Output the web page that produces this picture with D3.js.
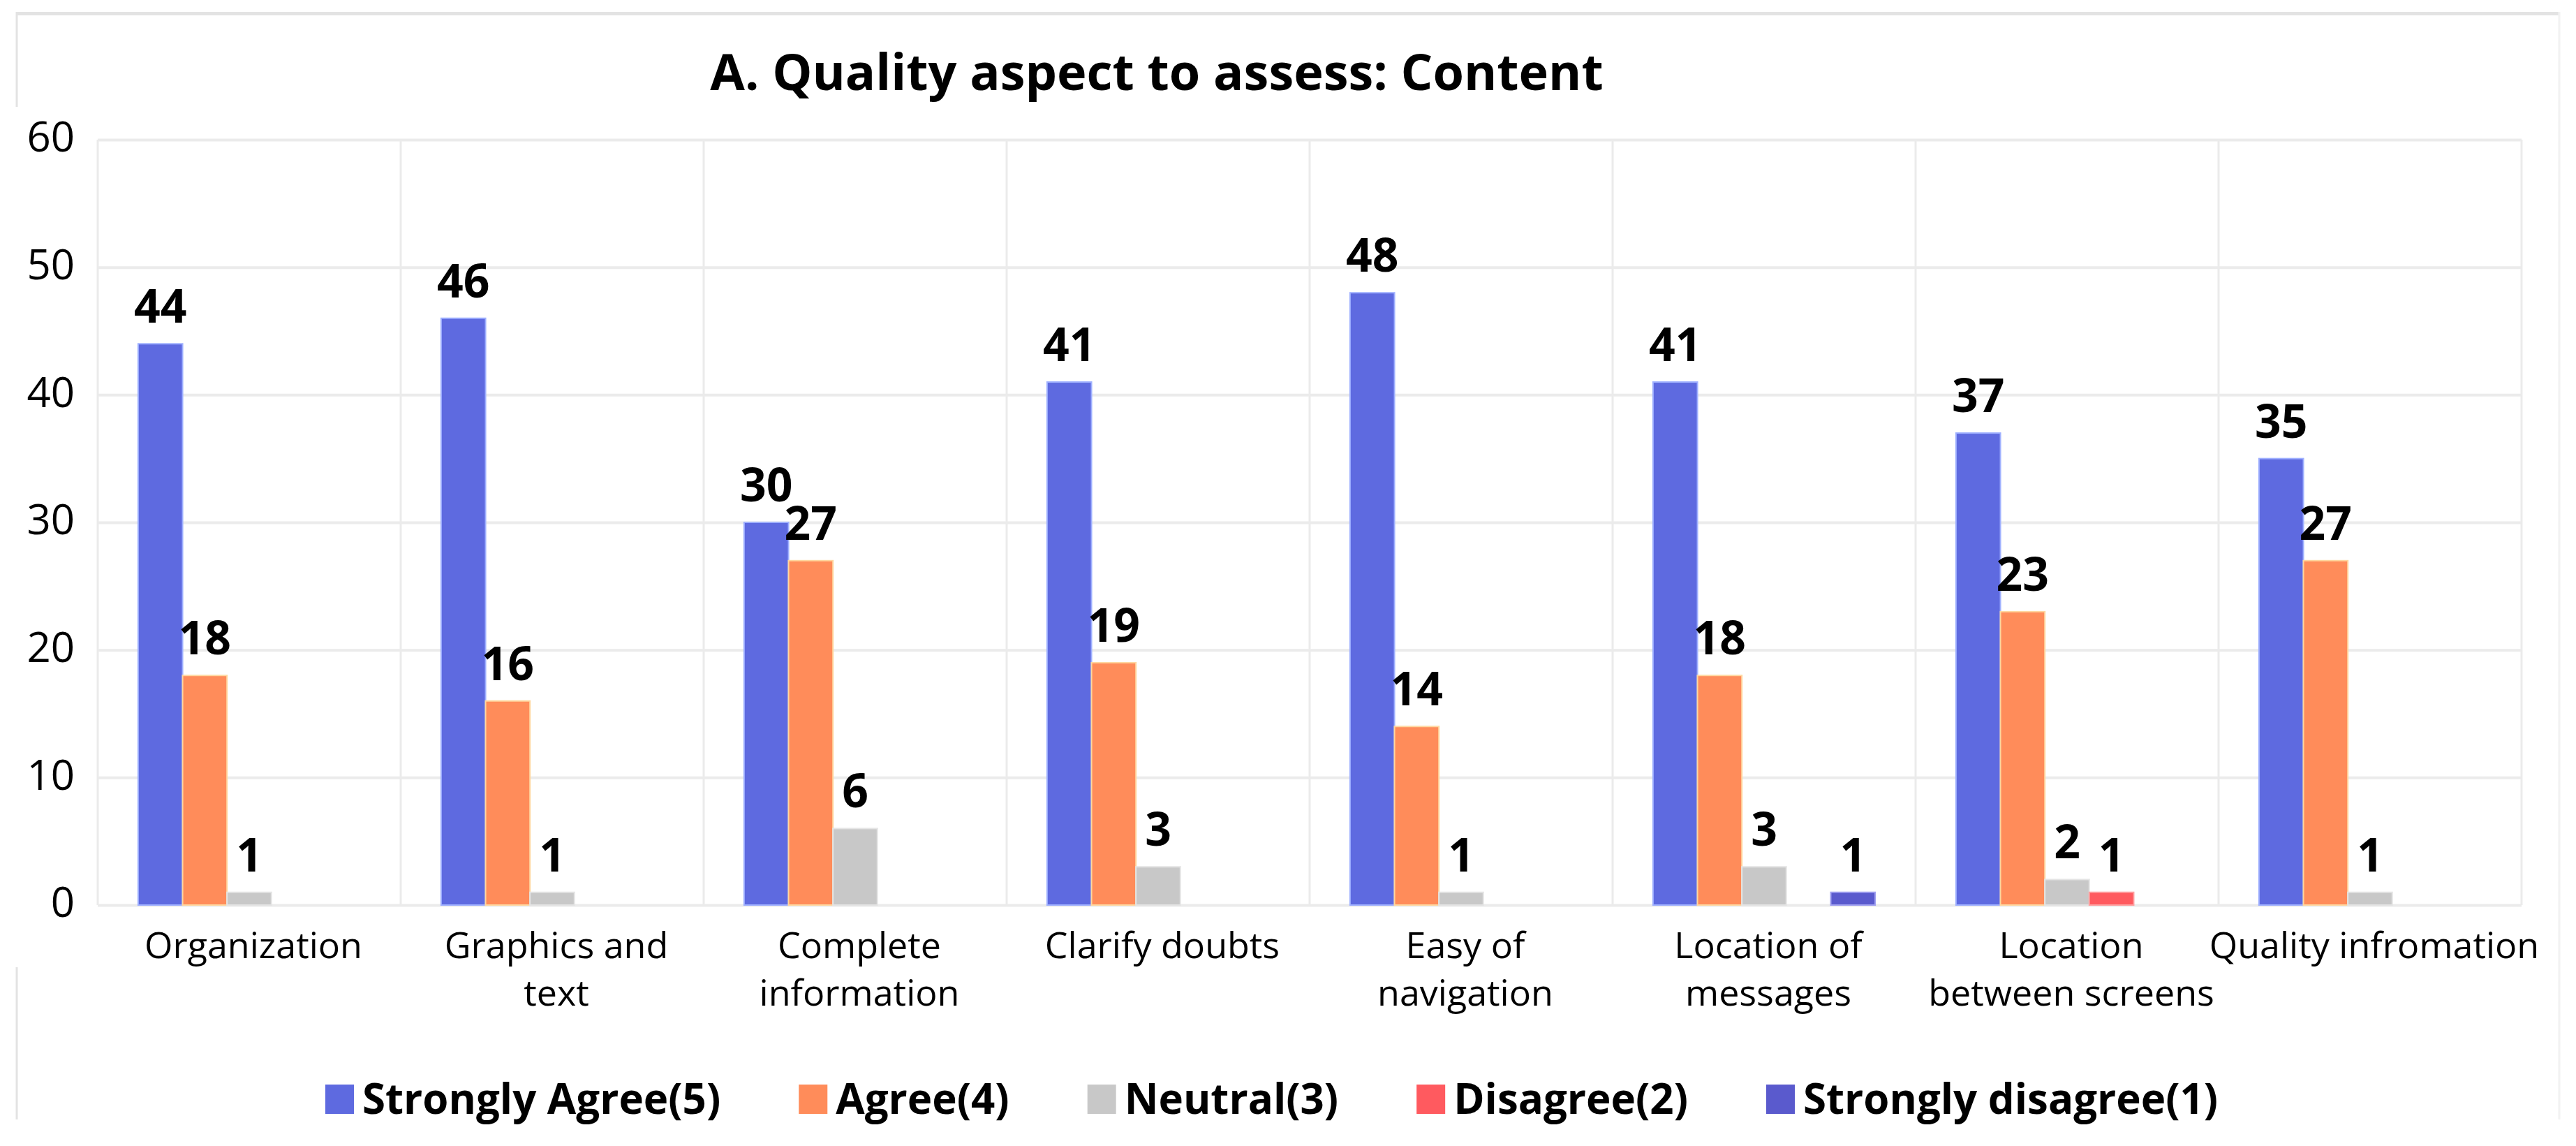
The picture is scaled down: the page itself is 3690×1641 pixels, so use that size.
<!DOCTYPE html>
<html>
<head>
<meta charset="utf-8">
<script src="https://cdn.jsdelivr.net/npm/d3@7"></script>
<style>
  body { margin: 0; background: #fff; }
  text { font-family: 'Open Sans', sans-serif; fill: #000; }
</style>
</head>
<body>
<script>
// Data
var categories = ['Organization', 'Graphics and text', 'Complete information', 'Clarify doubts',
  'Easy of navigation', 'Location of messages', 'Location between screens', 'Quality infromation'];
var categoryLines = [['Organization'], ['Graphics and', 'text'], ['Complete', 'information'], ['Clarify doubts'],
  ['Easy of', 'navigation'], ['Location of', 'messages'], ['Location', 'between screens'], ['Quality infromation']];
var seriesNames = ['Strongly Agree(5)', 'Agree(4)', 'Neutral(3)', 'Disagree(2)', 'Strongly disagree(1)'];
var stronglyAgree = [44, 46, 30, 41, 48, 41, 37, 35];
var agree = [18, 16, 27, 19, 14, 18, 23, 27];
var neutral = [1, 1, 6, 3, 1, 3, 2, 1];
var disagree = [0, 0, 0, 0, 0, 0, 1, 0];
var stronglyDisagree = [0, 0, 0, 0, 0, 1, 0, 0];
var yTicks = [0, 10, 20, 30, 40, 50, 60];
var title = 'A. Quality aspect to assess: Content';

var seriesValues = [stronglyAgree, agree, neutral, disagree, stronglyDisagree];
var COLORS = ['#5E6AE0', '#FF8C5A', '#C8C8C8', '#FF5A5F', '#5A5ACD'];
var EDGES = ['#9fb0ff', '#ffd7a0', '#e4e4e4', '#ffa0a0', '#a0a0f0'];

// Layout
var WIDTH = 3690;
var HEIGHT = 1641;
var LEFT = 140;
var RIGHT = 3612;
var TOP = 200;
var BOTTOM = 1296;
var GRID = '#EBEBEB';

var svg = d3.select('body').append('svg')
  .attr('width', WIDTH)
  .attr('height', HEIGHT);

var x = d3.scaleBand()
  .domain(categories)
  .range([LEFT, RIGHT]);

var xInner = d3.scaleBand()
  .domain(seriesNames)
  .range([0, x.bandwidth()])
  .paddingOuter(0.91);

var y = d3.scaleLinear()
  .domain([0, 60])
  .range([BOTTOM, TOP]);

// Outer frame (left side is hidden behind the axis labels)
var frame = svg.append('g')
  .attr('stroke', '#E3E3E3')
  .attr('fill', 'none');
frame.append('line').attr('x1', 24).attr('x2', 3665).attr('y1', 19.5).attr('y2', 19.5).attr('stroke-width', 5);
frame.append('line').attr('x1', 24).attr('x2', 24).attr('y1', 17).attr('y2', 153).attr('stroke-width', 3);
frame.append('line').attr('x1', 24).attr('x2', 24).attr('y1', 1385).attr('y2', 1603).attr('stroke-width', 3);
frame.append('line').attr('x1', 3666).attr('x2', 3666).attr('y1', 17).attr('y2', 1603)
  .attr('stroke', '#F2F2F2').attr('stroke-width', 3);

// Gridlines
svg.append('g')
  .attr('class', 'grid-y')
  .attr('transform', 'translate(' + LEFT + ',0)')
  .call(d3.axisLeft(y).tickValues(yTicks).tickSize(-(RIGHT - LEFT)).tickFormat(''))
  .call(function (g) {
    g.select('.domain').remove();
    g.selectAll('line').attr('stroke', GRID).attr('stroke-width', 4);
  });

var bounds = categories.map(function (c) { return x(c); }).concat([RIGHT]);
svg.append('g')
  .selectAll('line')
  .data(bounds)
  .join('line')
  .attr('x1', function (d) { return d; })
  .attr('x2', function (d) { return d; })
  .attr('y1', TOP)
  .attr('y2', BOTTOM)
  .attr('stroke', GRID)
  .attr('stroke-width', 3);

// Y axis labels
svg.append('g')
  .attr('transform', 'translate(' + LEFT + ',0)')
  .call(d3.axisLeft(y).tickValues(yTicks).tickSize(0).tickPadding(33))
  .call(function (g) {
    g.select('.domain').remove();
    g.selectAll('text')
      .attr('font-size', 60)
      .attr('font-family', "'Open Sans', sans-serif")
      .attr('fill', '#000')
      .attr('dy', '0.28em');
  });

// Bars
var groups = svg.append('g')
  .selectAll('g')
  .data(categories)
  .join('g')
  .attr('transform', function (d) { return 'translate(' + x(d) + ',0)'; });

var cells = groups.selectAll('g')
  .data(function (d, i) {
    return seriesNames.map(function (s, j) { return { series: s, j: j, value: seriesValues[j][i] }; });
  })
  .join('g');

cells.filter(function (d) { return d.value > 0; })
  .append('rect')
  .attr('x', function (d) { return xInner(d.series); })
  .attr('y', function (d) { return y(d.value); })
  .attr('width', xInner.bandwidth())
  .attr('height', function (d) { return y(0) - y(d.value); })
  .attr('fill', function (d) { return COLORS[d.j]; })
  .attr('stroke', function (d) { return EDGES[d.j]; })
  .attr('stroke-width', 2);

cells.filter(function (d) { return d.value > 0; })
  .append('text')
  .attr('x', function (d) { return xInner(d.series) + xInner.bandwidth() / 2; })
  .attr('y', function (d) { return y(d.value) - 30; })
  .attr('text-anchor', 'middle')
  .attr('font-size', 66)
  .attr('font-weight', 'bold')
  .text(function (d) { return d.value; });

// X axis labels
svg.append('g')
  .selectAll('text')
  .data(categories)
  .join('text')
  .attr('x', function (d) { return x(d) + x.bandwidth() / 2 + 6; })
  .attr('y', 1372)
  .attr('text-anchor', 'middle')
  .attr('font-size', 52)
  .selectAll('tspan')
  .data(function (d, i) { return categoryLines[i]; })
  .join('tspan')
  .attr('x', function () { var p = this.parentNode; return p.getAttribute('x'); })
  .attr('dy', function (d, i) { return i === 0 ? 0 : 68; })
  .text(function (d) { return d; });

// Title
svg.append('text')
  .attr('x', 1657)
  .attr('y', 129)
  .attr('text-anchor', 'middle')
  .attr('font-size', 72)
  .attr('font-weight', 'bold')
  .text(title);

// Legend
var legend = svg.append('g').attr('transform', 'translate(0,1595)');
var items = legend.selectAll('g')
  .data(seriesNames)
  .join('g');

items.append('rect')
  .attr('y', -42)
  .attr('width', 41)
  .attr('height', 42)
  .attr('fill', function (d, i) { return COLORS[i]; });

items.append('text')
  .attr('x', 53)
  .attr('font-size', 60)
  .attr('font-weight', 'bold')
  .text(function (d) { return d; });

var cursor = 466;
items.each(function () {
  var w = this.querySelector('text').getComputedTextLength();
  d3.select(this).attr('transform', 'translate(' + cursor + ',0)');
  cursor += 53 + w + 112;
});
</script>
</body>
</html>
